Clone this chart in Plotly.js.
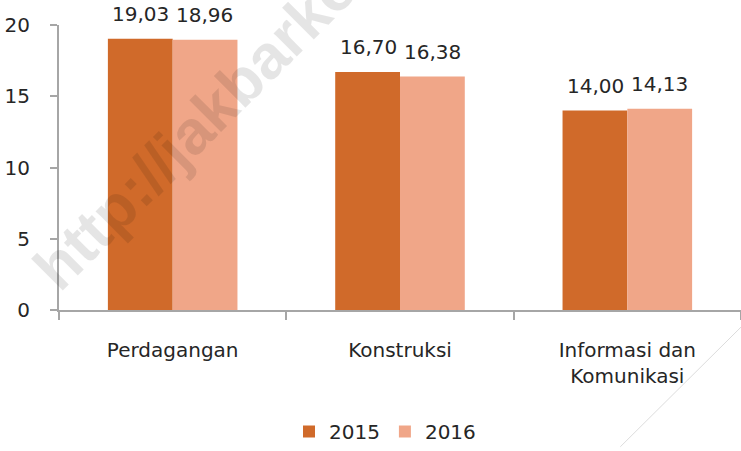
<!DOCTYPE html>
<html><head><meta charset="utf-8">
<script src="https://cdn.plot.ly/plotly-3.0.1.min.js"></script>
<style>html,body{margin:0;padding:0;background:#fff}#c{width:741px;height:451px}</style>
</head><body><div id="c"></div>
<script>
const categories = ["Perdagangan", "Konstruksi", "Informasi dan<br>Komunikasi"];
const seriesNames = ["2015", "2016"];
const values2015 = [19.03, 16.70, 14.00];
const values2016 = [18.96, 16.38, 14.13];
const yTicks = [0, 5, 10, 15, 20];

const colors = ["#D06A2A", "#F0A688"];
const font = "'DejaVu Sans', sans-serif";
const txtColor = "#262626";

const traces = [values2015, values2016].map((vals, i) => ({
  type: "bar",
  name: seriesNames[i],
  x: categories,
  y: vals,
  marker: {color: colors[i], line: {width: 0}},
  hoverinfo: "none"
}));

const fmt = v => v.toFixed(2).replace(".", ",");
const annotations = [];
[values2015, values2016].forEach((vals, i) => {
  vals.forEach((v, j) => {
    annotations.push({
      x: categories[j], y: v, xref: "x", yref: "y",
      text: fmt(v), showarrow: false,
      xshift: i === 0 ? -32 : 32, yshift: 11,
      yanchor: "bottom",
      font: {family: font, size: 20, color: txtColor}
    });
  });
});
annotations.push({
  xref: "paper", yref: "paper", x: 0.38, y: 1.073, xanchor: "center", yanchor: "middle",
  text: "<b>http://jakbarkota.bps.go.id</b>", showarrow: false,
  textangle: -45, font: {family: "'Liberation Sans', Arial, sans-serif", size: 62, color: "rgba(0,0,0,0.1)"}
});

const layout = {
  width: 741, height: 451,
  margin: {l: 59, r: 0, t: 25, b: 138},
  paper_bgcolor: "#fff", plot_bgcolor: "#fff",
  bargap: 0.43, bargroupgap: 0,
  barmode: "group",
  showlegend: true,
  legend: {orientation: "h", x: 0.478, xanchor: "center", y: -0.427, yanchor: "middle",
           font: {family: font, size: 20, color: txtColor}, traceorder: "normal"},
  xaxis: {
    type: "category", tickson: "boundaries", ticks: "outside", ticklen: 8, tickwidth: 2,
    tickcolor: "#A6A6A6", showline: true, linecolor: "#A6A6A6", linewidth: 2,
    showgrid: false, zeroline: false, ticklabelstandoff: 21,
    tickfont: {family: font, size: 20, color: txtColor}
  },
  yaxis: {
    range: [0, 20], tickvals: yTicks, ticktext: yTicks.map(String),
    ticks: "outside", ticklen: 7, tickwidth: 2, tickcolor: "#A6A6A6",
    showline: true, linecolor: "#A6A6A6", linewidth: 2,
    showgrid: false, zeroline: false, ticklabelstandoff: 16,
    tickfont: {family: font, size: 20, color: txtColor}
  },
  shapes: [{
    type: "line", xref: "paper", yref: "paper", x0: 1.0, y0: -0.06, x1: 0.823, y1: -0.48,
    line: {color: "#DCDCDC", width: 1}
  }],
  annotations: annotations
};

Plotly.newPlot("c", traces, layout, {staticPlot: true, displayModeBar: false});
</script>
</body></html>
